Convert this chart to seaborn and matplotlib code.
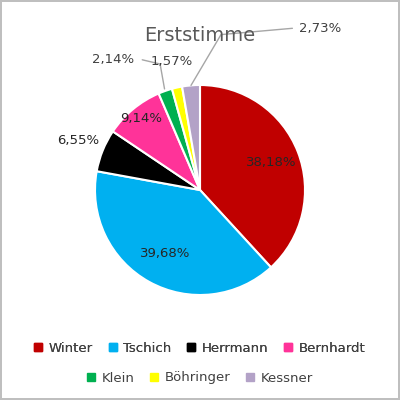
import matplotlib
matplotlib.use("Agg")
import matplotlib.pyplot as plt
import seaborn as sns
import numpy as np

names = ["Winter", "Tschich", "Herrmann", "Bernhardt", "Klein", "Böhringer", "Kessner"]
shares = [38.18, 39.68, 6.55, 9.14, 2.14, 1.57, 2.73]
colors = ["#C00000", "#00B0F0", "#000000", "#FF3399", "#00B050", "#FFFF00", "#B3A2C7"]
# label radius (as fraction of pie radius) and manual positions for the small slices
label_r = [0.73, 0.69, 1.25, 0.88, 1.0, 1.0, 1.0]
label_xy = {4: (-0.83, 1.24), 5: (-0.27, 1.22), 6: (1.14, 1.54)}

sns.set_theme(style="white")
plt.rcParams["font.family"] = ["DejaVu Sans"]

fig = plt.figure(figsize=(4, 4), dpi=100)
fig.patch.set_edgecolor("#BFBFBF")
fig.patch.set_linewidth(1.5)
ax = fig.add_axes([0, 0, 1, 1])

wedges, _ = ax.pie(shares, colors=colors, startangle=90, counterclock=False,
                   radius=1, wedgeprops=dict(edgecolor="white", linewidth=1.5))
ax.set_aspect("auto")
ax.set_xlim(-200 / 105, 200 / 105)
ax.set_ylim(-210 / 105, 190 / 105)
ax.axis("off")

for i, (w, s) in enumerate(zip(wedges, shares)):
    txt = f"{s:.2f}".replace(".", ",") + "%"
    mid = np.deg2rad((w.theta1 + w.theta2) / 2)
    edge = (np.cos(mid), np.sin(mid))
    if i in label_xy:
        x, y = label_xy[i]
        if i == 6:
            ax.plot([edge[0], 0.2, 0.88], [edge[1], 1.48, 1.54], color="#A6A6A6", lw=1)
        elif i == 4:
            ax.plot([edge[0] * 1.02, -0.38, -0.55], [edge[1] * 1.02, 1.2, 1.24], color="#A6A6A6", lw=1)
        ax.text(x, y, txt, ha="center", va="center", fontsize=9.5, color="#404040")
    else:
        r = label_r[i]
        ax.text(r * edge[0], r * edge[1], txt, ha="center", va="center",
                fontsize=9.5, color="#262626")

fig.text(0.5, 0.912, "Erststimme", ha="center", va="center", fontsize=14, color="#595959")

handles = [plt.Rectangle((0, 0), 1, 1, color=c) for c in colors]
kw = dict(frameon=False, fontsize=9.5, handlelength=0.6, handleheight=0.6,
          columnspacing=1.2, handletextpad=0.5, labelcolor="#404040")
leg1 = fig.legend(handles[:4], names[:4], loc="center", bbox_to_anchor=(0.5, 0.13), ncol=4, **kw)
fig.add_artist(leg1)
fig.legend(handles[4:], names[4:], loc="center", bbox_to_anchor=(0.5, 0.055), ncol=3, **kw)

fig.savefig("out.png", dpi=100, edgecolor=fig.get_edgecolor())
